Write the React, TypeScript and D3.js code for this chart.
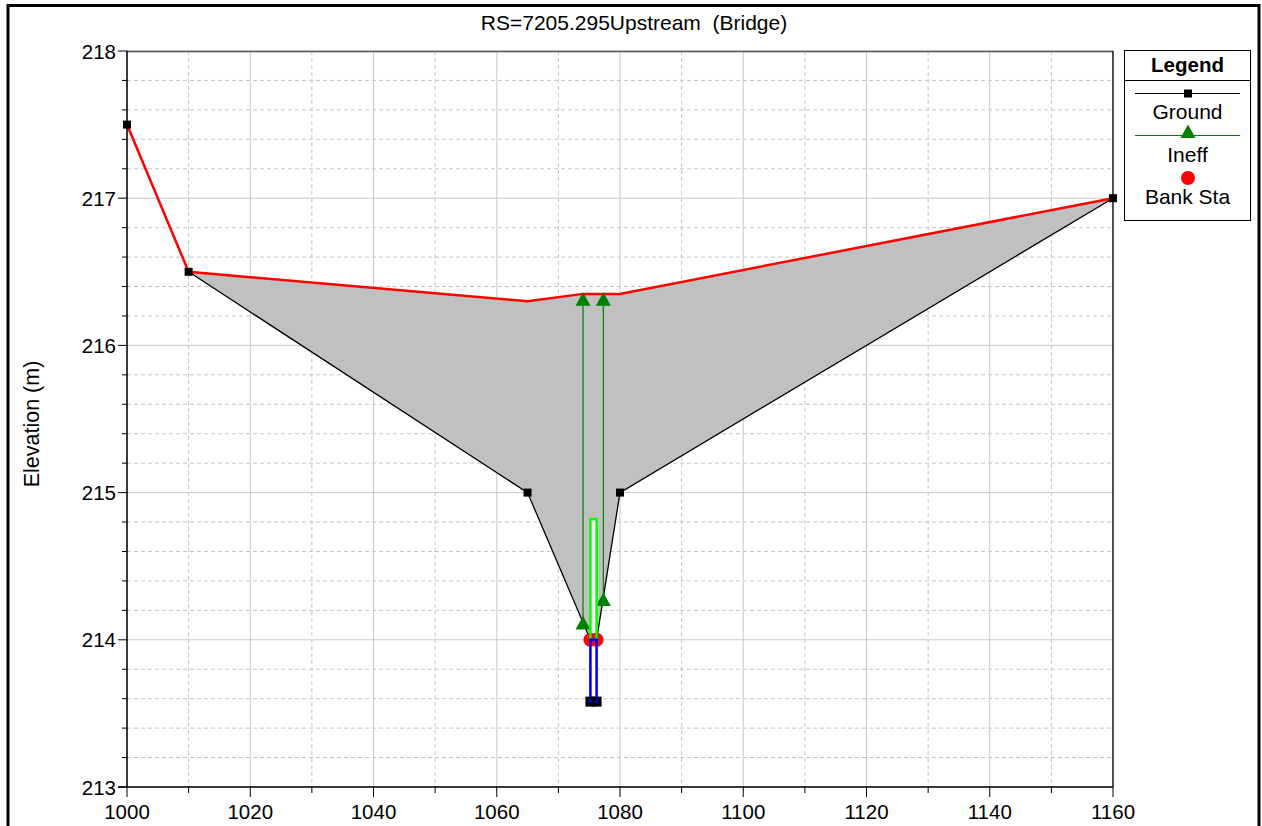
import React from 'react'
import * as d3 from 'd3'

// ground points (station, elevation)
const groundSta = [1000, 1010, 1065, 1075.2, 1075.2, 1076.2, 1076.2, 1080, 1160]
const groundElev = [217.5, 216.5, 215, 214, 213.58, 213.58, 214, 215, 217]

// top of deck / high chord (red)
const deckSta = [1000, 1010, 1065, 1074, 1080, 1160]
const deckElev = [217.5, 216.5, 216.3, 216.35, 216.35, 217]

// ineffective flow markers
const ineffSta = [1074, 1077.3]
const ineffTop = [216.31, 216.31]
const ineffBottom = [214.11, 214.27]

// bank stations
const bankSta = [1075.2, 1076.2]
const bankElev = [214, 214]

// channel outlines
const channelSta = [1075.2, 1076.2]
const channelElev = [213.58, 214]
const greenSta = [1075.2, 1076.2]
const greenElev = [214, 214.82]

const xTicks = [1000, 1020, 1040, 1060, 1080, 1100, 1120, 1140, 1160]
const yTicks = [213, 214, 215, 216, 217, 218]

const FONT = '"Liberation Sans", Arial, sans-serif'

const App = () => {
  const x = d3.scaleLinear().domain([1000, 1160]).range([127, 1113])
  const y = d3.scaleLinear().domain([213, 218]).range([787, 51])

  const xMinor = d3.range(1000, 1161, 10)
  const yMinor = d3.range(0, 26).map(i => 213 + i * 0.2)

  const ground = groundSta.map((s, i) => [s, groundElev[i]] as [number, number])
  const deck = deckSta.map((s, i) => [s, deckElev[i]] as [number, number])

  const line = d3.line<[number, number]>().x(d => x(d[0])).y(d => y(d[1]))

  // deck fill: between red top and ground from 1010 onward
  const fillPts: [number, number][] = [
    ...deck.slice(1),
    ...ground.slice(1).reverse()
  ]

  const tri = (cx: number, cy: number) =>
    `M${cx},${cy - 7.5}L${cx + 7.5},${cy + 6}L${cx - 7.5},${cy + 6}Z`

  const gRect = {
    x: x(greenSta[0]), y: y(greenElev[1]),
    w: x(greenSta[1]) - x(greenSta[0]), h: y(greenElev[0]) - y(greenElev[1])
  }
  const cRect = {
    x: x(channelSta[0]), y: y(channelElev[1]),
    w: x(channelSta[1]) - x(channelSta[0]), h: y(channelElev[0]) - y(channelElev[1])
  }

  return (
    <svg width={1262} height={826} style={{ position: 'absolute', left: 0, top: 0, background: '#fff' }}>
      <rect x={8} y={5.5} width={1251} height={830} fill='#fff' stroke='#000' strokeWidth={3} />

      <text x={634} y={29.5} textAnchor='middle' fontFamily={FONT} fontSize={21} style={{ whiteSpace: 'pre' }}>RS=7205.295Upstream  (Bridge)</text>
      <text transform='translate(39,424) rotate(-90)' textAnchor='middle' fontFamily={FONT} fontSize={21.5}>Elevation (m)</text>

      <g className='grid'>
        {yMinor.map((v, i) => (
          <line key={'ym' + i} x1={127} x2={1113} y1={y(v)} y2={y(v)}
            stroke={i % 5 === 0 ? '#c8c8c8' : '#c4c4c4'} strokeWidth={1}
            strokeDasharray={i % 5 === 0 ? undefined : '4,3'} />
        ))}
        {xMinor.map((v, i) => (
          <line key={'xm' + i} x1={x(v)} x2={x(v)} y1={51} y2={787}
            stroke={i % 2 === 0 ? '#c8c8c8' : '#c4c4c4'} strokeWidth={1}
            strokeDasharray={i % 2 === 0 ? undefined : '4,3'} />
        ))}
      </g>

      <path d={line(fillPts) + 'Z'} fill='#c0c0c0' stroke='none' />

      <rect x={gRect.x} y={gRect.y} width={gRect.w} height={gRect.h} fill='#fff' />
      <rect x={cRect.x} y={cRect.y} width={cRect.w} height={cRect.h} fill='#fff' />

      <path d={line(ground.slice(1)) || ''} fill='none' stroke='#000' strokeWidth={1.3} />

      {ineffSta.map((s, i) => (
        <line key={'il' + i} x1={x(s)} x2={x(s)} y1={y(ineffTop[i])} y2={y(ineffBottom[i])} stroke='#007f00' strokeWidth={1.2} />
      ))}

      <path d={line(deck) || ''} fill='none' stroke='#ff0000' strokeWidth={2.5} />

      {ground.map((d, i) => (
        <rect key={'g' + i} x={x(d[0]) - 4} y={y(d[1]) - 4} width={8} height={8} fill='#000' />
      ))}

      {ineffSta.map((s, i) => (
        <g key={'it' + i}>
          <path d={tri(x(s), y(ineffTop[i]))} fill='#007f00' />
          <path d={tri(x(s), y(ineffBottom[i]))} fill='#007f00' />
        </g>
      ))}

      {bankSta.map((s, i) => (
        <circle key={'b' + i} cx={x(s)} cy={y(bankElev[i])} r={7} fill='#ff0000' />
      ))}

      <rect x={gRect.x} y={gRect.y} width={gRect.w} height={gRect.h} fill='none' stroke='#00ff00' strokeWidth={2.5} />
      <rect x={cRect.x} y={cRect.y} width={cRect.w} height={cRect.h} fill='none' stroke='#0000ff' strokeWidth={2.5} />
      {[0, 1].map(i => (
        <rect key={'cb' + i} x={x(channelSta[i]) - 4} y={y(channelElev[0]) - 4} width={8} height={8} fill='none' stroke='#000' strokeWidth={2} />
      ))}

      {/* axes frame */}
      <line x1={127} x2={1113} y1={51.5} y2={51.5} stroke='#555' strokeWidth={1.5} />
      <line x1={1113} x2={1113} y1={51} y2={787} stroke='#000' strokeWidth={1.3} />
      <line x1={127} x2={127} y1={51} y2={787} stroke='#000' strokeWidth={1.5} />
      <line x1={118} x2={1113} y1={787} y2={787} stroke='#000' strokeWidth={1.5} />

      {yMinor.map((v, i) => (
        <line key={'yt' + i} x1={i % 5 === 0 ? 118 : 122} x2={127} y1={y(v)} y2={y(v)} stroke='#000' strokeWidth={1} />
      ))}
      {xMinor.map((v, i) => (
        <line key={'xt' + i} x1={x(v)} x2={x(v)} y1={787} y2={i % 2 === 0 ? 797 : 793} stroke='#000' strokeWidth={1} />
      ))}
      {yTicks.map(v => (
        <text key={'yl' + v} x={116} y={y(v) + 7.5} textAnchor='end' fontFamily={FONT} fontSize={20.5}>{v}</text>
      ))}
      {xTicks.map(v => (
        <text key={'xl' + v} x={x(v)} y={818.5} textAnchor='middle' fontFamily={FONT} fontSize={20.5}>{v}</text>
      ))}

      {/* legend */}
      <g fontFamily={FONT}>
        <rect x={1124.5} y={50.5} width={126} height={170} fill='#fff' stroke='#000' strokeWidth={1} />
        <line x1={1124.5} x2={1250.5} y1={80.5} y2={80.5} stroke='#000' strokeWidth={1} />
        <text x={1187.5} y={71.5} textAnchor='middle' fontWeight='bold' fontSize={20.5}>Legend</text>
        <line x1={1135} x2={1240} y1={93.5} y2={93.5} stroke='#000' strokeWidth={1} />
        <rect x={1184} y={89.5} width={8} height={8} fill='#000' />
        <text x={1187.5} y={119} textAnchor='middle' fontSize={21}>Ground</text>
        <line x1={1135} x2={1240} y1={135.5} y2={135.5} stroke='#007f00' strokeWidth={1} />
        <path d={tri(1188, 132)} fill='#007f00' />
        <text x={1187.5} y={162} textAnchor='middle' fontSize={21}>Ineff</text>
        <circle cx={1188} cy={178} r={7} fill='#ff0000' />
        <text x={1187.5} y={204} textAnchor='middle' fontSize={21}>Bank Sta</text>
      </g>
    </svg>
  )
}

export default App
